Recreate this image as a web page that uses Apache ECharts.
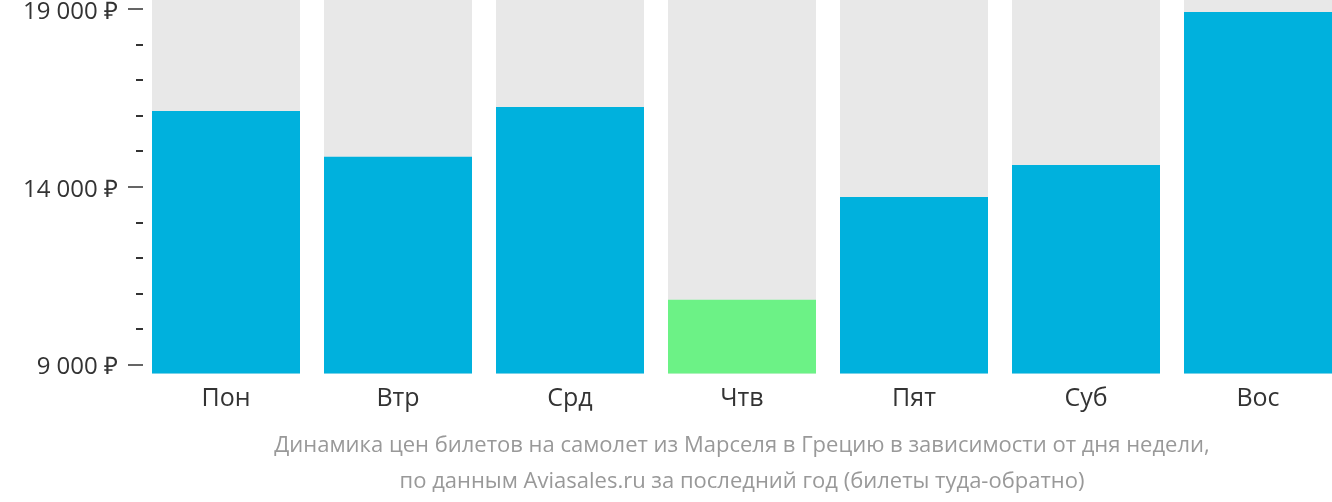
<!DOCTYPE html>
<html><head><meta charset="utf-8">
<script src="https://cdn.jsdelivr.net/npm/echarts@6/dist/echarts.min.js"></script>
<style>html,body{margin:0;padding:0;background:#fff}#c{width:1332px;height:502px}</style>
</head><body><div id="c"></div>
<script>
const categories = ['Пон','Втр','Срд','Чтв','Пят','Суб','Вос'];
const prices = [16130,14840,16240,10820,13710,14610,18910];
const majorTicks = [9000,14000,19000];
const minorTicks = [10000,11000,12000,13000,15000,16000,17000,18000];
const subtitleLines = ['Динамика цен билетов на самолет из Марселя в Грецию в зависимости от дня недели,','по данным Aviasales.ru за последний год (билеты туда-обратно)'];

const FONT = 'Open Sans';
const minPrice = Math.min(...prices);
function fmt(v){ return '{a|' + String(v).replace(/\B(?=(\d{3})+(?!\d))/g,' ') + ' ₽}'; }

const chart = echarts.init(document.getElementById('c'), null, {renderer:'canvas'});
chart.setOption({
  animation:false,
  grid:{left:140, top:0, width:1204, height:373.5, outerBoundsMode:'none', containLabel:false},
  xAxis:{type:'category', data:categories,
    axisLine:{show:false}, axisTick:{show:false},
    axisLabel:{fontSize:25, color:'#333', fontFamily:FONT, margin:13}},
  yAxis:[
    {type:'value', min:8750, max:19250, position:'left', offset:-3,
      splitLine:{show:false}, axisLine:{show:false},
      axisTick:{show:true, length:15, customValues:majorTicks, lineStyle:{color:'#333', width:1.5}},
      axisLabel:{show:true, customValues:majorTicks, formatter:fmt, margin:25, fontSize:24, color:'#333', fontFamily:FONT,
        rich:{a:{fontSize:24, color:'#333', fontFamily:FONT, padding:[6,0,0,0]}}}},
    {type:'value', min:8750, max:19250, position:'left', offset:-3,
      splitLine:{show:false}, axisLine:{show:false},
      axisTick:{show:true, length:7, customValues:minorTicks, lineStyle:{color:'#333', width:2}},
      axisLabel:{show:false}}
  ],
  series:[{type:'bar', yAxisIndex:0, barWidth:148, showBackground:true,
    backgroundStyle:{color:'#e8e8e8'},
    data:prices.map(v=>({value:v, itemStyle:{color: v===minPrice ? '#6cf286' : '#00b1dd'}}))}],
  graphic:[{type:'text', x:742, y:464, style:{text:subtitleLines.join('\n'), align:'center', verticalAlign:'middle', fontSize:22, lineHeight:36, fill:'#999', fontFamily:FONT}}]
});
</script></body></html>
